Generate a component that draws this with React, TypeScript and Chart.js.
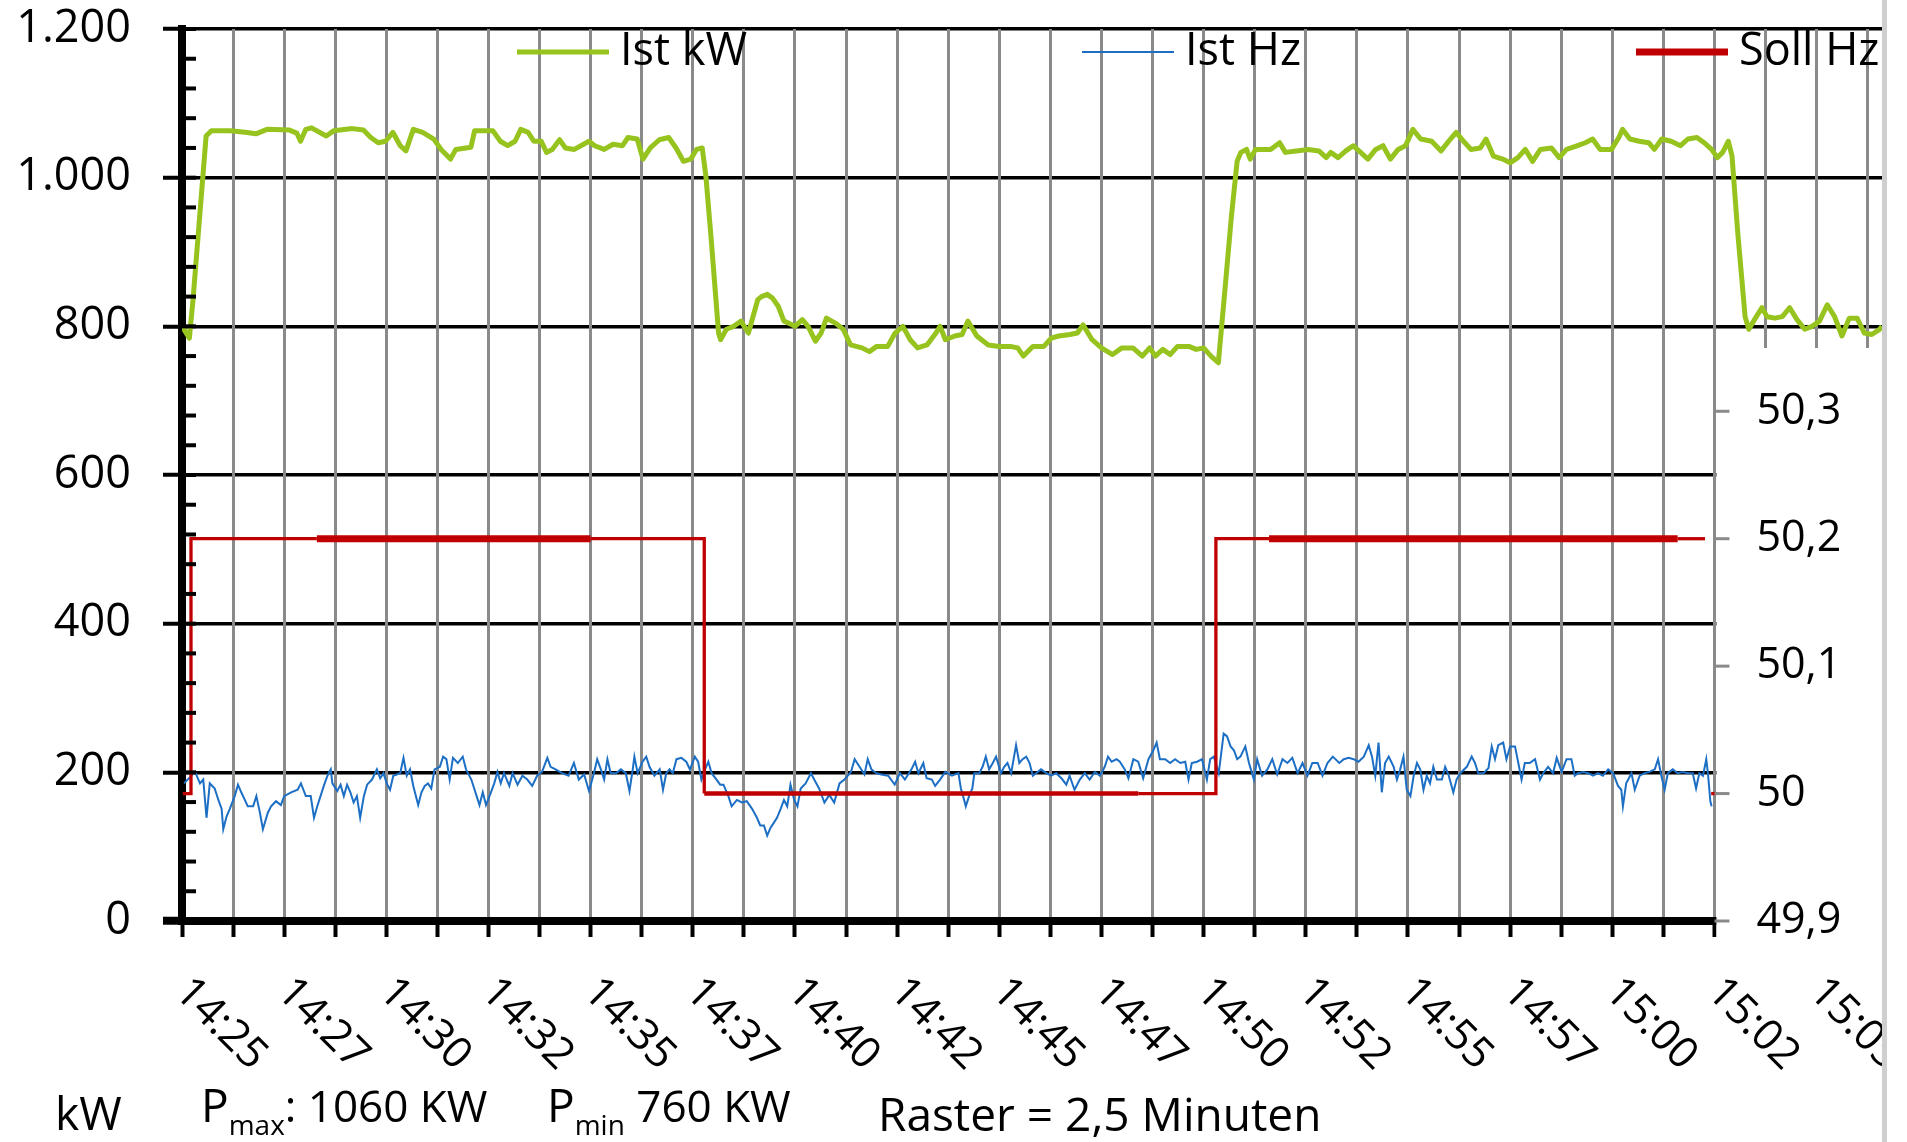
import React, { useEffect, useRef } from 'react';
import { Chart, registerables } from 'chart.js';

Chart.register(...registerables);

const FONT = '"Open Sans", "DejaVu Sans", sans-serif';
const CANVAS_W = 1907;
const CANVAS_H = 1142;

// ---------- axis definitions ----------
// x values are minutes after 14:25
const xTickLabels = ['14:25', '14:27', '14:30', '14:32', '14:35', '14:37', '14:40', '14:42', '14:45', '14:47', '14:50', '14:52', '14:55', '14:57', '15:00', '15:02', '15:05'];
const xLabelStep = 2.5;
const xGridStep = 1.25;
const xMin = 0;
const xMax = 41.6;
const xRightAxisAt = 37.5;

const kwTickValues = [0, 200, 400, 600, 800, 1000, 1200];
const kwTickLabels = ['0', '200', '400', '600', '800', '1.000', '1.200'];
const kwMinorStep = 40;

const hzTickValues = [49.9, 50.0, 50.1, 50.2, 50.3];
const hzTickLabels = ['49,9', '50', '50,1', '50,2', '50,3'];
const hzMin = 49.9;
const hzMax = 50.6;

const seriesLabels = ['Ist kW', 'Ist Hz', 'Soll Hz'];

// ---------- Ist kW ----------
const istKwMin = [
  0.00, 0.18, 0.27, 0.59, 0.72, 1.18, 1.54, 1.81, 2.08, 2.63,
  2.81, 2.90, 3.03, 3.17, 3.53, 3.71, 4.17, 4.44, 4.62, 4.80,
  4.98, 5.16, 5.34, 5.48, 5.66, 5.89, 6.16, 6.34, 6.57, 6.70,
  7.07, 7.16, 7.61, 7.79, 7.97, 8.15, 8.29, 8.47, 8.61, 8.79,
  8.92, 9.06, 9.24, 9.38, 9.60, 9.96, 10.10, 10.33, 10.55, 10.78,
  10.91, 11.14, 11.28, 11.46, 11.68, 11.91, 12.09, 12.27, 12.45, 12.59,
  12.73, 12.82, 12.95, 13.13, 13.18, 13.32, 13.50, 13.68, 13.86, 14.09,
  14.18, 14.32, 14.45, 14.59, 14.73, 14.86, 15.00, 15.18, 15.32, 15.50,
  15.64, 15.77, 16.00, 16.18, 16.36, 16.64, 16.82, 17.00, 17.27, 17.45,
  17.64, 17.82, 18.00, 18.23, 18.45, 18.55, 18.68, 18.91, 19.09, 19.23,
  19.45, 19.73, 20.00, 20.27, 20.45, 20.59, 20.82, 21.09, 21.27, 21.45,
  21.73, 21.91, 22.05, 22.27, 22.50, 22.77, 23.00, 23.27, 23.50, 23.68,
  23.82, 24.00, 24.18, 24.36, 24.64, 24.82, 25.00, 25.18, 25.36, 25.50,
  25.68, 25.82, 25.91, 26.05, 26.14, 26.27, 26.64, 26.86, 27.00, 27.27,
  27.55, 27.82, 28.00, 28.11, 28.29, 28.48, 28.66, 28.84, 29.02, 29.21,
  29.39, 29.57, 29.76, 29.94, 30.12, 30.31, 30.58, 30.81, 31.04, 31.18,
  31.36, 31.54, 31.77, 31.91, 32.09, 32.32, 32.50, 32.69, 32.87, 33.05,
  33.24, 33.51, 33.70, 33.88, 34.15, 34.34, 34.52, 34.70, 34.98, 35.16,
  35.25, 35.43, 35.66, 35.89, 36.03, 36.21, 36.44, 36.67, 36.85, 37.07,
  37.25, 37.43, 37.57, 37.70, 37.84, 37.93, 38.07, 38.25, 38.34, 38.48,
  38.66, 38.79, 38.98, 39.16, 39.34, 39.52, 39.71, 39.89, 40.07, 40.26,
  40.44, 40.62, 40.80, 40.99, 41.17, 41.35, 41.54, 41.60,
];
const istKwVal = [
  800, 784, 836, 1056, 1063, 1063, 1061, 1059, 1065, 1064,
  1060, 1049, 1065, 1067, 1056, 1063, 1066, 1064, 1054, 1047,
  1049, 1061, 1043, 1036, 1065, 1061, 1052, 1038, 1025, 1038,
  1041, 1063, 1063, 1049, 1043, 1049, 1065, 1061, 1049, 1049,
  1034, 1038, 1051, 1040, 1038, 1049, 1043, 1038, 1045, 1043,
  1054, 1052, 1025, 1040, 1051, 1054, 1040, 1022, 1025, 1038,
  1040, 1002, 917, 791, 782, 796, 800, 807, 791, 836,
  840, 843, 838, 827, 807, 804, 800, 809, 800, 780,
  791, 811, 804, 796, 775, 771, 766, 773, 773, 791,
  800, 782, 771, 775, 791, 800, 782, 787, 789, 807,
  787, 775, 773, 773, 771, 760, 773, 773, 784, 787,
  789, 791, 802, 782, 771, 762, 771, 771, 760, 771,
  760, 769, 762, 773, 773, 769, 771, 760, 751, 836,
  948, 1022, 1034, 1038, 1025, 1038, 1038, 1047, 1034, 1036,
  1038, 1036, 1027, 1034, 1027, 1036, 1043, 1034, 1025, 1038,
  1043, 1025, 1038, 1043, 1065, 1052, 1049, 1036, 1052, 1061,
  1049, 1038, 1040, 1052, 1029, 1025, 1020, 1027, 1038, 1022,
  1038, 1040, 1027, 1038, 1043, 1047, 1052, 1038, 1038, 1054,
  1065, 1052, 1049, 1047, 1038, 1052, 1049, 1043, 1052, 1054,
  1047, 1038, 1027, 1034, 1049, 1029, 926, 813, 796, 809,
  825, 813, 811, 813, 825, 809, 796, 800, 807, 829,
  813, 787, 811, 811, 791, 789, 796, 800,
];

// ---------- Ist Hz ----------
const istHzMin = [
  0.05, 0.32, 0.44, 0.52, 0.60, 0.68, 0.80, 0.89, 0.97, 1.01,
  1.09, 1.17, 1.29, 1.37, 1.45, 1.61, 1.74, 1.82, 1.90, 1.98,
  2.10, 2.18, 2.30, 2.42, 2.50, 2.67, 2.83, 2.91, 3.03, 3.15,
  3.23, 3.31, 3.39, 3.48, 3.56, 3.64, 3.68, 3.80, 3.88, 3.96,
  4.04, 4.12, 4.20, 4.28, 4.36, 4.45, 4.53, 4.65, 4.77, 4.85,
  4.93, 5.01, 5.09, 5.17, 5.34, 5.42, 5.50, 5.58, 5.66, 5.78,
  5.86, 5.94, 6.02, 6.10, 6.18, 6.31, 6.39, 6.47, 6.55, 6.63,
  6.75, 6.87, 6.95, 7.08, 7.20, 7.28, 7.36, 7.44, 7.56, 7.64,
  7.72, 7.80, 7.88, 8.01, 8.09, 8.21, 8.33, 8.45, 8.57, 8.69,
  8.81, 8.94, 9.02, 9.14, 9.30, 9.46,
  9.59, 9.71, 9.84, 9.96, 10.08, 10.16, 10.25, 10.33, 10.41, 10.49,
  10.62, 10.74, 10.86, 10.95, 11.03, 11.07, 11.15, 11.27, 11.36, 11.44,
  11.56, 11.69, 11.77, 11.85, 11.93, 12.01, 12.10, 12.22, 12.34, 12.43,
  12.55, 12.63, 12.71, 12.80, 12.88, 12.96, 13.08, 13.17, 13.25, 13.37,
  13.45, 13.58, 13.70, 13.82, 13.95, 14.07, 14.15, 14.24, 14.32, 14.40,
  14.48, 14.56, 14.65, 14.73, 14.81, 14.89, 14.98, 15.06, 15.14, 15.26,
  15.39, 15.47, 15.59, 15.72, 15.84, 15.96, 16.09, 16.21, 16.37, 16.46,
  16.58, 16.70, 16.78, 16.87, 16.99, 17.11, 17.28, 17.44, 17.57, 17.69,
  17.85, 17.94, 18.02, 18.14, 18.22, 18.35, 18.43, 18.55, 18.68, 18.84,
  19.00,
  19.06, 19.14, 19.18, 19.26, 19.34, 19.39, 19.51, 19.59, 19.67, 19.75,
  19.84, 19.92, 20.04, 20.12, 20.20, 20.29, 20.41, 20.49, 20.57, 20.66,
  20.74, 20.82, 20.90, 21.02, 21.15, 21.27, 21.39, 21.52, 21.64, 21.72,
  21.84, 21.97, 22.09, 22.21, 22.34, 22.46, 22.58, 22.66, 22.75, 22.87,
  22.95, 23.07, 23.16, 23.28, 23.40, 23.52, 23.65, 23.77, 23.85, 23.93,
  24.06, 24.18, 24.30, 24.43, 24.55, 24.63, 24.71, 24.84, 24.96, 25.08,
  25.16, 25.25, 25.37, 25.49, 25.57, 25.66, 25.74, 25.82, 25.90, 26.02,
  26.11, 26.23, 26.31, 26.43, 26.56, 26.68, 26.80, 26.93, 27.05, 27.17,
  27.30, 27.42, 27.54, 27.66, 27.79, 27.91, 28.03, 28.16, 28.32,
  28.43, 28.55, 28.67, 28.79, 28.92, 29.04, 29.12, 29.20, 29.28, 29.36,
  29.44, 29.53, 29.65, 29.73, 29.81, 29.89, 29.97, 30.06, 30.14, 30.22,
  30.30, 30.38, 30.46, 30.54, 30.62, 30.71, 30.83, 30.91, 30.99, 31.11,
  31.19, 31.28, 31.44, 31.56, 31.64, 31.72, 31.85, 31.97, 32.05, 32.13,
  32.21, 32.33, 32.41, 32.50, 32.62, 32.70, 32.78, 32.86, 32.98, 33.11,
  33.23, 33.31, 33.43, 33.55, 33.64, 33.76, 33.88, 34.00, 34.08, 34.16,
  34.29, 34.41, 34.53, 34.65, 34.77, 34.90, 35.02, 35.14, 35.22, 35.26,
  35.34, 35.47, 35.55, 35.67, 35.79, 35.91, 36.04, 36.12, 36.20, 36.28,
  36.36, 36.48, 36.60, 36.73, 36.85, 36.97, 37.05, 37.13, 37.22, 37.30,
  37.34, 37.40, 37.43,
];
const istHzVal = [
  50.008, 50.017, 50.008, 50.011, 49.981, 50.008, 50.004, 49.995, 49.988, 49.972,
  49.982, 49.988, 49.998, 50.007, 50.001, 49.990, 49.990, 49.998, 49.986, 49.972,
  49.985, 49.990, 49.994, 49.991, 49.998, 50.001, 50.003, 50.008, 49.998, 49.998,
  49.981, 49.990, 49.998, 50.007, 50.014, 50.019, 50.008, 50.002, 50.007, 49.998,
  50.007, 50.001, 49.993, 49.998, 49.981, 49.998, 50.007, 50.011, 50.019, 50.012,
  50.016, 50.008, 50.003, 50.014, 50.016, 50.028, 50.014, 50.019, 50.006, 49.991,
  50.001, 50.006, 50.008, 50.004, 50.019, 50.021, 50.029, 50.027, 50.011, 50.028,
  50.024, 50.029, 50.019, 50.011, 49.999, 49.991, 50.001, 49.991, 50.001, 50.008,
  50.017, 50.008, 50.016, 50.006, 50.016, 50.007, 50.014, 50.011, 50.006, 50.014,
  50.017, 50.028, 50.021, 50.019, 50.016, 50.014,
  50.024, 50.011, 50.015, 50.002, 50.016, 50.027, 50.019, 50.011, 50.027, 50.016,
  50.016, 50.019, 50.016, 50.002, 50.019, 50.029, 50.016, 50.025, 50.029, 50.021,
  50.014, 50.019, 50.003, 50.016, 50.019, 50.016, 50.027, 50.028, 50.025, 50.019,
  50.029, 50.025, 50.011, 50.019, 50.025, 50.016, 50.011, 50.007, 50.007, 49.998,
  49.990, 49.995, 49.993, 49.994, 49.988, 49.981, 49.975, 49.975, 49.967, 49.973,
  49.977, 49.981, 49.988, 49.995, 49.990, 50.007, 49.995, 49.990, 50.004, 50.008,
  50.016, 50.011, 50.004, 49.993, 49.999, 49.993, 50.008, 50.011, 50.017, 50.027,
  50.021, 50.015, 50.027, 50.019, 50.016, 50.015, 50.014, 50.007, 50.016, 50.011,
  50.019, 50.025, 50.016, 50.024, 50.012, 50.011, 50.006, 50.011, 50.017, 50.014,
  50.016,
  50.004, 49.995, 49.990, 49.998, 50.004, 50.016, 50.016, 50.021, 50.029, 50.019,
  50.024, 50.029, 50.016, 50.021, 50.024, 50.016, 50.038, 50.024, 50.027, 50.029,
  50.024, 50.014, 50.016, 50.019, 50.016, 50.014, 50.016, 50.012, 50.007, 50.014,
  50.003, 50.011, 50.016, 50.011, 50.017, 50.014, 50.021, 50.029, 50.025, 50.027,
  50.025, 50.019, 50.012, 50.027, 50.025, 50.012, 50.027, 50.034, 50.040, 50.027,
  50.027, 50.024, 50.027, 50.024, 50.025, 50.011, 50.024, 50.025, 50.027, 50.011,
  50.027, 50.029, 50.016, 50.047, 50.045, 50.037, 50.034, 50.027, 50.029, 50.037,
  50.024, 50.011, 50.027, 50.014, 50.019, 50.027, 50.015, 50.027, 50.024, 50.028,
  50.016, 50.024, 50.014, 50.024, 50.024, 50.014, 50.024, 50.029, 50.024,
  50.027, 50.028, 50.027, 50.025, 50.029, 50.038, 50.029, 50.014, 50.040, 50.001,
  50.024, 50.029, 50.021, 50.011, 50.019, 50.029, 50.003, 49.998, 50.014, 50.024,
  50.019, 50.003, 50.014, 50.008, 50.021, 50.011, 50.011, 50.021, 50.015, 50.001,
  50.011, 50.016, 50.021, 50.029, 50.024, 50.016, 50.016, 50.020, 50.037, 50.027,
  50.038, 50.040, 50.027, 50.037, 50.037, 50.024, 50.011, 50.024, 50.024, 50.027,
  50.011, 50.016, 50.021, 50.016, 50.028, 50.017, 50.027, 50.027, 50.014, 50.016,
  50.017, 50.016, 50.014, 50.016, 50.014, 50.019, 50.016, 50.006, 50.003, 49.990,
  50.008, 50.016, 50.003, 50.014, 50.016, 50.017, 50.019, 50.027, 50.014, 50.003,
  50.016, 50.019, 50.016, 50.017, 50.016, 50.016, 50.004, 50.016, 50.014, 50.027,
  50.016, 49.994, 49.990,
];

// ---------- Soll Hz ----------
const sollHzMin = [0.02, 0.22, 0.22, 3.3, 10.0, 12.78, 12.78, 23.4, 25.3, 25.3, 26.6, 36.6, 37.27, 37.3, 37.42, 37.6];
const sollHzVal = [50.0, 50.0, 50.2, 50.2, 50.2, 50.2, 50.0, 50.0, 50.0, 50.2, 50.2, 50.2, 50.2, null, 50.0, 50.0];

// styling of the Soll Hz trace (heavier stretches in the original)
const sollWideRanges = [[3.3, 10.0], [26.6, 36.6]];
const sollMidRanges = [[12.78, 23.4]];

// footer texts
const footKw = 'kW';
const footPmax = ': 1060 KW';
const footPmin = ' 760 KW';
const footRaster = 'Raster = 2,5 Minuten';

const makeXY = (xs: number[], ys: (number | null)[]) => xs.map((x, i) => ({ x, y: ys[i] }));

export default function App() {
  const ref = useRef<HTMLCanvasElement | null>(null);

  useEffect(() => {
    const canvas = ref.current;
    if (!canvas) return;

    const gridTicks: { value: number }[] = [];
    for (let v = xMin; v <= xMax + 1e-9; v += xGridStep) gridTicks.push({ value: +v.toFixed(4) });

    const legendX = [517, 1082, 1636];
    const legendW = [5, 2, 7];

    const overlay = {
      id: 'overlay',
      afterDraw(chart: any) {
        const ctx = chart.ctx as CanvasRenderingContext2D;
        const a = chart.chartArea;
        const sx = chart.scales.x;
        const sy = chart.scales.y;
        const sy1 = chart.scales.y1;
        ctx.save();

        // minor ticks (inside) on left axis
        ctx.strokeStyle = '#000';
        ctx.lineWidth = 4;
        for (let v = 0; v <= 1200; v += kwMinorStep) {
          const py = sy.getPixelForValue(v);
          ctx.beginPath();
          ctx.moveTo(a.left, py);
          ctx.lineTo(a.left + 14, py);
          ctx.stroke();
        }

        // blank region at lower right (secondary axis area)
        const axisX = sx.getPixelForValue(xRightAxisAt);
        ctx.fillStyle = '#fff';
        ctx.fillRect(axisX + 2, 348, CANVAS_W - axisX - 2, CANVAS_H - 348);

        // right axis ticks + labels
        ctx.strokeStyle = '#8a8a8a';
        ctx.lineWidth = 3;
        ctx.fillStyle = '#000';
        ctx.font = `43px ${FONT}`;
        ctx.textAlign = 'left';
        ctx.textBaseline = 'middle';
        hzTickValues.forEach((v, i) => {
          const py = sy1.getPixelForValue(v);
          ctx.beginPath();
          ctx.moveTo(axisX, py);
          ctx.lineTo(axisX + 15, py);
          ctx.stroke();
          ctx.fillText(hzTickLabels[i], axisX + 42, py);
        });

        // rotated time labels
        ctx.font = `43px ${FONT}`;
        ctx.textBaseline = 'alphabetic';
        ctx.textAlign = 'left';
        xTickLabels.forEach((lab, i) => {
          const px = sx.getPixelForValue(i * xLabelStep);
          ctx.save();
          ctx.translate(px - 9, 994);
          ctx.rotate(Math.PI / 4);
          ctx.fillText(lab, 0, 0);
          ctx.restore();
        });

        // legend
        chart.data.datasets.forEach((ds: any, i: number) => {
          const lx = legendX[i];
          ctx.strokeStyle = ds.borderColor;
          ctx.lineWidth = legendW[i];
          ctx.beginPath();
          ctx.moveTo(lx, 52);
          ctx.lineTo(lx + 92, 52);
          ctx.stroke();
          ctx.fillStyle = '#000';
          ctx.font = `45px ${FONT}`;
          ctx.textBaseline = 'alphabetic';
          ctx.fillText(ds.label, lx + 103, 65);
        });

        // footer
        ctx.fillStyle = '#000';
        ctx.textBaseline = 'alphabetic';
        ctx.font = `46px ${FONT}`;
        ctx.fillText(footKw, 55, 1130);

        let px = 201;
        ctx.font = `46px ${FONT}`;
        ctx.fillText('P', px, 1122);
        px += ctx.measureText('P').width;
        ctx.font = `28px ${FONT}`;
        ctx.fillText('max', px, 1135);
        px += ctx.measureText('max').width;
        ctx.font = `44px ${FONT}`;
        ctx.fillText(footPmax, px, 1122);

        px = 547;
        ctx.font = `46px ${FONT}`;
        ctx.fillText('P', px, 1122);
        px += ctx.measureText('P').width;
        ctx.font = `28px ${FONT}`;
        ctx.fillText('min', px, 1135);
        px += ctx.measureText('min').width;
        ctx.font = `44px ${FONT}`;
        ctx.fillText(footPmin, px, 1122);

        ctx.font = `46px ${FONT}`;
        ctx.fillText(footRaster, 878, 1131);

        // cut-off right margin + light grey edge
        ctx.fillStyle = '#fff';
        ctx.fillRect(a.right, 0, CANVAS_W - a.right, CANVAS_H);
        ctx.fillStyle = '#cfcfcf';
        ctx.fillRect(a.right, 0, 5, CANVAS_H);

        ctx.restore();
      },
    };

    const inRanges = (m: number, rs: number[][]) => rs.some(([s, e]) => m > s && m < e);

    const chart = new Chart(canvas, {
      type: 'line',
      data: {
        datasets: [
          {
            label: seriesLabels[0],
            data: makeXY(istKwMin, istKwVal),
            yAxisID: 'y',
            borderColor: '#96C31E',
            borderWidth: 5,
            pointRadius: 0,
            tension: 0,
            borderJoinStyle: 'round',
            order: 3,
          },
          {
            label: seriesLabels[1],
            data: makeXY(istHzMin, istHzVal),
            yAxisID: 'y1',
            borderColor: '#1C6FC4',
            borderWidth: 2,
            pointRadius: 0,
            tension: 0,
            order: 2,
          },
          {
            label: seriesLabels[2],
            data: makeXY(sollHzMin, sollHzVal),
            yAxisID: 'y1',
            borderColor: '#C00000',
            borderWidth: 3.3,
            pointRadius: 0,
            tension: 0,
            spanGaps: false,
            order: 1,
            segment: {
              borderWidth: (c: any) => {
                const x0 = c.p0.parsed.x;
                const x1 = c.p1.parsed.x;
                if (x0 === x1) return 3.3;
                const m = (x0 + x1) / 2;
                if (inRanges(m, sollWideRanges)) return 7;
                if (inRanges(m, sollMidRanges)) return 4.5;
                return 3.3;
              },
            },
          },
        ],
      },
      options: {
        animation: false,
        responsive: false,
        devicePixelRatio: 1,
        events: [],
        layout: { padding: { left: 0, top: 29, right: CANVAS_W - 1882, bottom: 0 } },
        plugins: { legend: { display: false }, tooltip: { enabled: false } },
        scales: {
          y: {
            type: 'linear',
            position: 'left',
            min: 0,
            max: 1200,
            afterBuildTicks: (s: any) => {
              s.ticks = kwTickValues.map((v) => ({ value: v }));
            },
            afterFit: (s: any) => {
              s.width = 182;
              s.paddingTop = 0;
              s.paddingBottom = 0;
            },
            ticks: {
              color: '#000',
              padding: 32,
              font: { family: FONT, size: 45 },
              callback: (v: any) => {
                const i = kwTickValues.indexOf(Number(v));
                return i >= 0 ? kwTickLabels[i] : '';
              },
            },
            grid: {
              color: '#000',
              lineWidth: 3.5,
              drawTicks: true,
              tickLength: 19,
              tickColor: '#000',
              tickWidth: (c: any) => (c.tick && c.tick.value === 0 ? 8 : 4),
            },
            border: { display: true, color: '#000', width: 8 },
          },
          x: {
            type: 'linear',
            position: 'bottom',
            min: xMin,
            max: xMax,
            afterBuildTicks: (s: any) => {
              s.ticks = gridTicks.map((t) => ({ value: t.value }));
            },
            afterFit: (s: any) => {
              s.height = CANVAS_H - 921;
              s.paddingLeft = 0;
              s.paddingRight = 0;
            },
            ticks: { display: false },
            grid: {
              color: '#8a8a8a',
              lineWidth: 3,
              drawTicks: true,
              tickLength: 16,
              tickColor: '#000',
              tickWidth: 4,
            },
            border: { display: true, color: '#000', width: 8 },
          },
          y1: {
            type: 'linear',
            position: 'right',
            display: false,
            min: hzMin,
            max: hzMax,
          },
        },
      },
      plugins: [overlay],
    } as any);

    let alive = true;
    const fonts = (document as any).fonts;
    if (fonts && fonts.load) {
      fonts.load(`45px "Open Sans"`).then(() => {
        if (alive) chart.update('none');
      }).catch(() => {});
    }

    return () => {
      alive = false;
      chart.destroy();
    };
  }, []);

  return (
    <div style={{ position: 'absolute', left: 0, top: 0, width: CANVAS_W, height: CANVAS_H, background: '#fff', overflow: 'hidden' }}>
      <canvas ref={ref} width={CANVAS_W} height={CANVAS_H} style={{ display: 'block', width: CANVAS_W, height: CANVAS_H }} />
    </div>
  );
}
